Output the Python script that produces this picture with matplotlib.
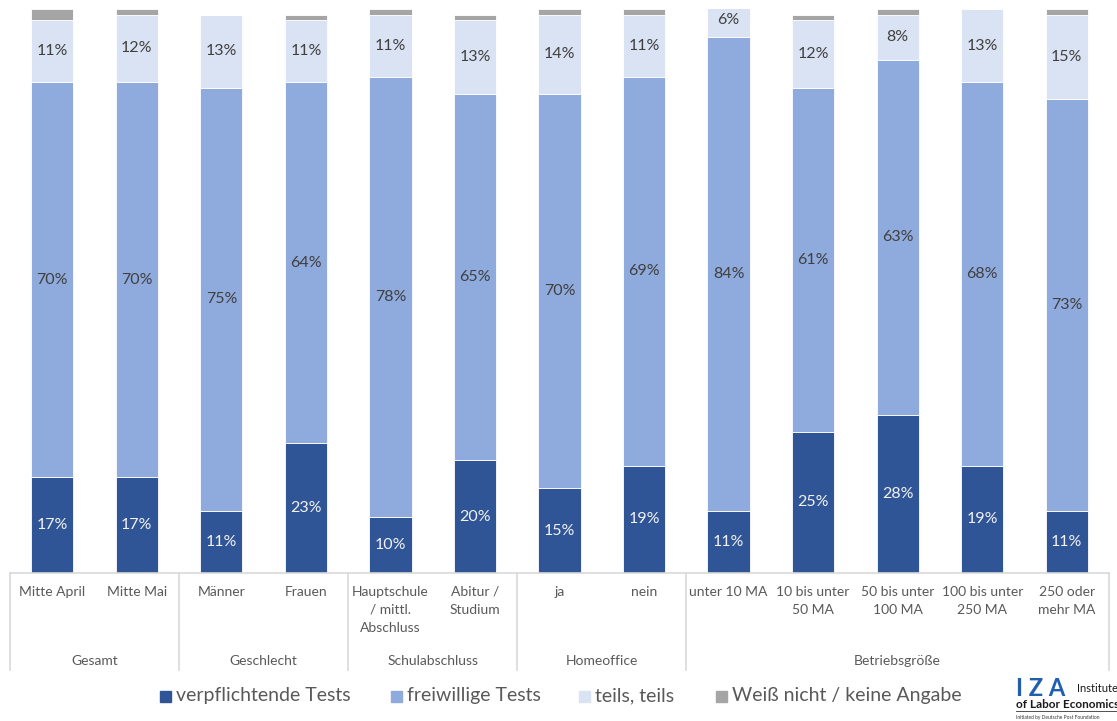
import numpy as np
import matplotlib.pyplot as plt
from matplotlib.lines import Line2D
from matplotlib.patches import Rectangle

plt.rcParams['font.family'] = ['Lato', 'DejaVu Sans']

# Data (percent)
categories = ["Mitte April", "Mitte Mai", "Männer", "Frauen",
              "Hauptschule\n/ mittl.\nAbschluss", "Abitur /\nStudium",
              "ja", "nein", "unter 10 MA", "10 bis unter\n50 MA",
              "50 bis unter\n100 MA", "100 bis unter\n250 MA", "250 oder\nmehr MA"]
groups = ["Gesamt", "Geschlecht", "Schulabschluss", "Homeoffice", "Betriebsgröße"]
group_sizes = [2, 2, 2, 2, 5]

verpflichtend = [17, 17, 11, 23, 10, 20, 15, 19, 11, 25, 28, 19, 11]
freiwillig = [70, 70, 75, 64, 78, 65, 70, 69, 84, 61, 63, 68, 73]
teils = [11, 12, 13, 11, 11, 13, 14, 11, 6, 12, 8, 13, 15]
weiss_nicht = [2, 1, 0, 1, 1, 1, 1, 1, 0, 1, 1, 0, 1]

series = [verpflichtend, freiwillig, teils, weiss_nicht]
names = ["verpflichtende Tests", "freiwillige Tests", "teils, teils",
         "Weiß nicht / keine Angabe"]
colors = ["#2F5597", "#8FAADC", "#DAE3F3", "#A5A5A5"]
label_colors = ["#F2F2F2", "#404040", "#404040", None]

fig = plt.figure(figsize=(11.17, 7.21), dpi=100)
ax = fig.add_axes([10 / 1117, 148 / 721, 1099 / 1117, 564 / 721])

x = np.arange(len(categories))
bottom = np.zeros(len(categories))
for vals, c, lc in zip(series, colors, label_colors):
    vals = np.array(vals, dtype=float)
    ax.bar(x, vals, width=0.5, bottom=bottom, color=c, edgecolor='white', linewidth=0.6)
    if lc is not None:
        for xi, b, v in zip(x, bottom, vals):
            ax.text(xi, b + v / 2, f"{int(v)}%", ha='center', va='center',
                    fontsize=11.5, color=lc)
    bottom += vals

ax.set_xlim(-0.5, len(categories) - 0.5)
ax.set_ylim(0, 100)
ax.axis('off')

# axis line and group separators
line_col = "#D9D9D9"
ax.add_line(Line2D([-0.5, len(categories) - 0.5], [0, 0], color=line_col, lw=1.2, clip_on=False))
to_ax_y = lambda py: (573 - py) / 564 * 100  # pixel row -> data y
edges = np.concatenate([[0], np.cumsum(group_sizes)]) - 0.5
for e in edges:
    ax.add_line(Line2D([e, e], [0, to_ax_y(670)], color=line_col, lw=1.2, clip_on=False))

# category labels
for xi, cat in zip(x, categories):
    ax.text(xi, to_ax_y(586), cat, ha='center', va='top', fontsize=10,
            color='#595959', linespacing=1.6)

# group labels
for g, lo, hi in zip(groups, edges[:-1], edges[1:]):
    ax.text((lo + hi) / 2, to_ax_y(661), g, ha='center', va='center',
            fontsize=10, color='#595959')

# legend
leg_x = [160, 391, 579, 716]
for px, c, n in zip(leg_x, colors, names):
    fig.patches.append(Rectangle((px / 1117, (721 - 702) / 721), 11 / 1117, 11 / 721,
                                 transform=fig.transFigure, color=c))
    fig.text((px + 16) / 1117, (721 - 696) / 721, n, ha='left', va='center',
             fontsize=14, color='#595959')

# IZA logo
fig.text(1016 / 1117, (721 - 688) / 721, "I Z A", fontsize=17, fontweight='bold',
         color='#1F5FAD', va='center', ha='left')
fig.text(1077 / 1117, (721 - 689) / 721, "Institute", fontsize=8,
         color='#1a1a1a', va='center', ha='left')
fig.text(1016 / 1117, (721 - 704) / 721, "of Labor Economics", fontsize=8.5,
         fontweight='bold', color='#1a1a1a', va='center', ha='left')
fig.add_artist(Line2D([1016 / 1117, 1117 / 1117], [(721 - 711) / 721] * 2,
                      color='#333333', lw=0.6))
fig.text(1016 / 1117, (721 - 717) / 721, "Initiated by Deutsche Post Foundation",
         fontsize=3.5, color='#333333', va='center', ha='left')

fig.savefig("out.png", dpi=100)
